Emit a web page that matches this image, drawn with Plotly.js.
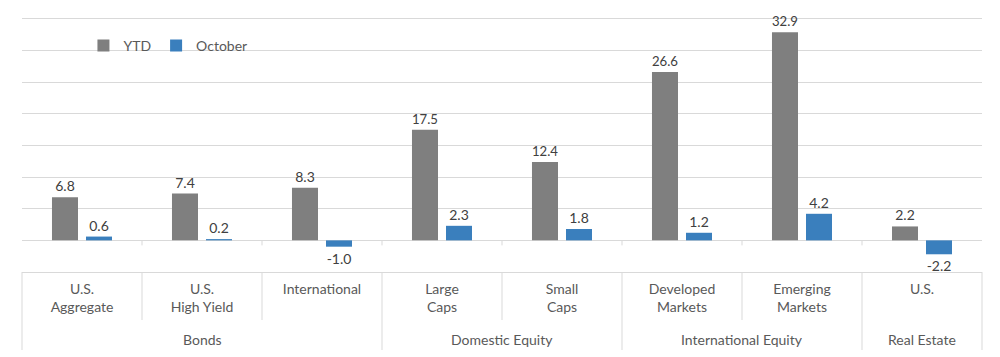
<!DOCTYPE html>
<html>
<head>
<meta charset="utf-8">
<script src="https://cdn.plot.ly/plotly-3.0.1.min.js"></script>
<style>html,body{margin:0;padding:0;background:#fff;}#chart{width:1000px;height:357px;}</style>
</head>
<body>
<div id="chart"></div>
<script>
const groups = ['Bonds','Bonds','Bonds','Domestic Equity','Domestic Equity','International Equity','International Equity','Real Estate'];
const subs = ['U.S.<br>Aggregate','U.S.<br>High Yield','International','Large<br>Caps','Small<br>Caps','Developed<br>Markets','Emerging<br>Markets','U.S.'];
const ytd = [6.8, 7.4, 8.3, 17.5, 12.4, 26.6, 32.9, 2.2];
const october = [0.6, 0.2, -1.0, 2.3, 1.8, 1.2, 4.2, -2.2];
const seriesNames = ['YTD', 'October'];

const FONT = 'Lato, "Open Sans", sans-serif';
const n = subs.length;
const lc = '#d9d9d9';

const common = {
  type: 'bar',
  x: subs,
  texttemplate: '%{y:.1f}',
  textposition: 'outside',
  cliponaxis: false,
  textfont: {family: FONT, size: 14, color: '#404040'},
  hoverinfo: 'skip'
};

const traces = [
  Object.assign({}, common, {name: seriesNames[0], y: ytd, marker: {color: '#7f7f7f'}}),
  Object.assign({}, common, {name: seriesNames[1], y: october, marker: {color: '#3a7fbd'}})
];

const shapes = [];
const annotations = [];
const spans = [];
groups.forEach((g, i) => {
  if (!spans.length || spans[spans.length - 1].name !== g) spans.push({name: g, start: i, end: i});
  else spans[spans.length - 1].end = i;
});
const groupBounds = new Set([0, n]);
spans.forEach(s => { groupBounds.add(s.start); groupBounds.add(s.end + 1); });

// plot height 255 px; bottom of label area ~78 px below, sub row ~48 px below
const PH = 255;
for (let i = 0; i <= n; i++) {
  const full = groupBounds.has(i);
  shapes.push({type: 'line', xref: 'paper', yref: 'paper', x0: i / n, x1: i / n,
    y0: 0, y1: full ? -78 / PH : -48 / PH, line: {color: lc, width: 1}});
  if (i > 0 && i < n) {
    shapes.push({type: 'line', xref: 'paper', yref: 'y', ysizemode: 'pixel', yanchor: 0,
      x0: i / n, x1: i / n, y0: 0, y1: -5, line: {color: lc, width: 1}});
  }
}
spans.forEach(s => {
  annotations.push({xref: 'paper', yref: 'paper', x: (s.start + s.end + 1) / 2 / n, y: -67 / PH,
    text: s.name, showarrow: false, xanchor: 'center', yanchor: 'middle',
    font: {family: FONT, size: 14, color: '#595959'}});
});

const layout = {
  width: 1000, height: 357,
  margin: {l: 22, r: 18, t: 17, b: 85},
  paper_bgcolor: '#fff', plot_bgcolor: '#fff',
  barmode: 'group',
  bargap: 0.433,
  bargroupgap: 0.235,
  font: {family: FONT, size: 14, color: '#595959'},
  showlegend: true,
  legend: {
    orientation: 'h', x: 0.064, y: 0.887, xanchor: 'left', yanchor: 'middle',
    font: {family: FONT, size: 14, color: '#595959'},
    bgcolor: 'rgba(0,0,0,0)', itemwidth: 30, traceorder: 'normal'
  },
  xaxis: {
    type: 'category',
    showgrid: false,
    showline: true, linecolor: lc, linewidth: 1,
    ticks: '',
    ticklabelstandoff: 4,
    tickfont: {family: FONT, size: 14, color: '#595959'},
    fixedrange: true
  },
  yaxis: {
    range: [-5, 35.3],
    dtick: 5, tick0: 0,
    showticklabels: false,
    showgrid: true, gridcolor: lc, gridwidth: 1,
    zeroline: true, zerolinecolor: lc, zerolinewidth: 1,
    showline: false, ticks: '',
    fixedrange: true
  },
  shapes: shapes,
  annotations: annotations
};

Plotly.newPlot('chart', traces, layout, {displayModeBar: false, staticPlot: true});
</script>
</body>
</html>
